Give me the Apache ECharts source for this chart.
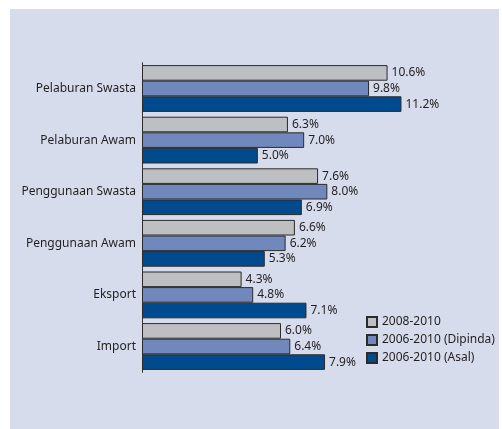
<!DOCTYPE html>
<html><head><meta charset="utf-8">
<script src="https://cdn.jsdelivr.net/npm/echarts@6/dist/echarts.min.js"></script>
<style>html,body{margin:0;padding:0;background:#fff}#c{width:502px;height:429px}</style>
</head><body><div id="c"></div>
<script>
const categories = ['Pelaburan Swasta','Pelaburan Awam','Penggunaan Swasta','Penggunaan Awam','Eksport','Import'];
const seriesNames = ['2008-2010','2006-2010 (Dipinda)','2006-2010 (Asal)'];
const s2008_2010 = [10.6, 6.3, 7.6, 6.6, 4.3, 6.0];
const s2006_2010_dipinda = [9.8, 7.0, 8.0, 6.2, 4.8, 6.4];
const s2006_2010_asal = [11.2, 5.0, 6.9, 5.3, 7.1, 7.9];
const colors = ['#bebfc3', '#7088bb', '#004a8d'];
const FONT = 'Noto Sans';
const chart = echarts.init(document.getElementById('c'), null, {renderer:'canvas'});
const data = [s2008_2010, s2006_2010_dipinda, s2006_2010_asal];
chart.setOption({
  backgroundColor: '#fff',
  animation: false,
  textStyle: {fontFamily: FONT},
  graphic: [{type:'rect', z:-10, silent:true, shape:{x:10,y:9,width:489,height:420}, style:{fill:'#d6dcec'}}],
  grid: {left:142, top:62.7, width:278, height:309.6, containLabel:false},
  xAxis: {type:'value', min:0, max:12, show:false},
  yAxis: {type:'category', data: categories, inverse:true,
    axisLine:{show:true, lineStyle:{color:'#333', width:1}}, axisTick:{show:false},
    axisLabel:{color:'#231f20', fontSize:12, fontFamily:FONT, margin:6}},
  legend: {orient:'vertical', left:366, top:316, itemWidth:10, itemHeight:10, itemGap:6, padding:0,
    icon:'rect', textStyle:{color:'#231f20', fontSize:12, fontFamily:FONT}, data: seriesNames},
  series: seriesNames.map((n,i)=>({
    name:n, type:'bar', data:data[i], barWidth:15.6, barGap:'0%',
    itemStyle:{color:colors[i], borderColor:'#2b2b2b', borderWidth:1},
    label:{show:true, position:'right', distance:4, formatter: p=>p.value.toFixed(1)+'%', color:'#231f20', fontSize:12, fontFamily:FONT}
  }))
});
</script></body></html>
